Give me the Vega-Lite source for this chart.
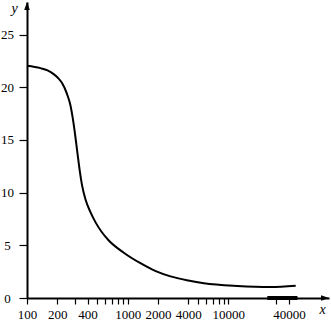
{
  "$schema": "https://vega.github.io/schema/vega-lite/v6.json",
  "width": 302,
  "height": 296,
  "autosize": {"type": "none"},
  "padding": {"left": 27, "top": 2, "right": 2, "bottom": 22},
  "background": "white",
  "config": {
    "view": {"stroke": null},
    "axis": {
      "grid": false,
      "domainColor": "black",
      "domainWidth": 2,
      "tickColor": "black",
      "tickWidth": 1.2,
      "labelColor": "black",
      "labelFont": "Liberation Serif",
      "labelFontSize": 13,
      "titleFont": "Liberation Serif",
      "titleFontStyle": "italic",
      "titleFontWeight": "normal",
      "titleFontSize": 14,
      "titleColor": "black"
    }
  },
  "encoding": {
    "x": {
      "field": "x", "type": "quantitative",
      "scale": {"type": "log", "domain": [100, 100000], "nice": false},
      "axis": {
        "title": "x",
        "values": [100, 200, 300, 400, 500, 600, 700, 800, 900, 1000, 2000, 4000, 5000, 6000, 7000, 8000, 9000, 10000, 30000, 40000],
        "labelExpr": "indexof([100,200,400,1000,2000,4000,10000,40000], datum.value) >= 0 ? format(datum.value, 'd') : ''",
        "tickSize": 6,
        "labelPadding": 4,
        "labelFlush": false,
        "labelOverlap": false,
        "titleAngle": 0,
        "titleX": 295,
        "titleY": 15,
        "titleAlign": "center",
        "titleBaseline": "alphabetic"
      }
    },
    "y": {
      "field": "y", "type": "quantitative",
      "scale": {"domain": [0, 28.1], "nice": false, "zero": true},
      "axis": {
        "title": "y",
        "values": [0, 5, 10, 15, 20, 25],
        "tickSize": 8,
        "labelAlign": "center",
        "labelPadding": 12,
        "titleAngle": 0,
        "titleX": -13,
        "titleY": 10,
        "titleAlign": "center",
        "titleBaseline": "alphabetic"
      }
    }
  },
  "layer": [
    {
      "data": {"values": [
        {"x": 100, "y": 22.05}, {"x": 136, "y": 21.82}, {"x": 160, "y": 21.6},
        {"x": 184, "y": 21.25}, {"x": 205, "y": 20.85}, {"x": 223, "y": 20.4},
        {"x": 250, "y": 19.35}, {"x": 270, "y": 18.3},
        {"x": 284, "y": 17.15}, {"x": 298, "y": 15.78}, {"x": 309, "y": 14.6},
        {"x": 322, "y": 13.25}, {"x": 334, "y": 12.1}, {"x": 352, "y": 10.72},
        {"x": 380, "y": 9.4}, {"x": 427, "y": 8.15}, {"x": 480, "y": 7.18},
        {"x": 550, "y": 6.29}, {"x": 649, "y": 5.46},
        {"x": 915, "y": 4.3}, {"x": 1340, "y": 3.3}, {"x": 1900, "y": 2.55},
        {"x": 2665, "y": 2.05}, {"x": 4000, "y": 1.66}, {"x": 5720, "y": 1.4}, {"x": 12300, "y": 1.14},
        {"x": 26300, "y": 1.04}, {"x": 46700, "y": 1.16}
      ]},
      "mark": {"type": "line", "color": "black", "strokeWidth": 2, "interpolate": "monotone"}
    },
    {
      "data": {"values": [{"x": 24400, "x2": 48600, "y": 0}]},
      "mark": {"type": "rule", "color": "black", "strokeWidth": 4},
      "encoding": {"x2": {"field": "x2"}}
    },
    {
      "data": {"values": [{"x": 100, "y": 28.1}]},
      "mark": {"type": "point", "shape": "M0,0L-0.35,1L0.35,1Z", "size": 256, "filled": true, "color": "black", "opacity": 1, "strokeWidth": 0}
    },
    {
      "data": {"values": [{"x": 100000, "y": 0}]},
      "mark": {"type": "point", "shape": "M0,0L-1,-0.35L-1,0.35Z", "size": 256, "filled": true, "color": "black", "opacity": 1, "strokeWidth": 0}
    }
  ]
}
